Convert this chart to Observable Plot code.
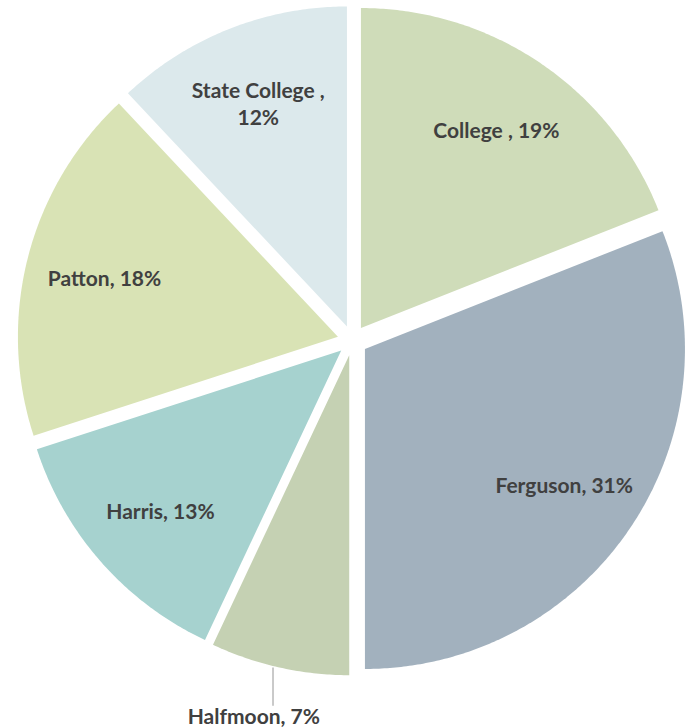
<!DOCTYPE html>
<html>
<head>
<meta charset="utf-8">
<script src="https://cdn.jsdelivr.net/npm/d3@7"></script>
<script src="https://cdn.jsdelivr.net/npm/@observablehq/plot@0.6"></script>
<style>
  html, body { margin: 0; padding: 0; background: #ffffff; }
  #chart { width: 686px; height: 728px; }
</style>
</head>
<body>
<div id="chart"></div>
<script>
const categories = ["College ", "Ferguson", "Halfmoon", "Harris", "Patton", "State College "];
const values = [19, 31, 7, 13, 18, 12];
const colors = ["#cfdcb9", "#a2b1be", "#c5d1b3", "#a6d2cf", "#d9e3b5", "#dce9ec"];

const explode = 0.047;
const labelRadius = 0.8;
const total = d3.sum(values);
const arcs = d3.pie().sort(null)(values);

// slice polygons (unit radius, angles clockwise from 12 o'clock)
const slicePoints = [];
const labels = [];
const leaders = [];
arcs.forEach((a, i) => {
  const cat = categories[i];
  const mid = (a.startAngle + a.endAngle) / 2;
  const ox = explode * Math.sin(mid), oy = explode * Math.cos(mid);
  slicePoints.push({cat, x: ox, y: oy});
  const n = Math.max(2, Math.ceil((a.endAngle - a.startAngle) / (Math.PI / 360)));
  for (let k = 0; k <= n; k++) {
    const t = a.startAngle + (a.endAngle - a.startAngle) * k / n;
    slicePoints.push({cat, x: ox + Math.sin(t), y: oy + Math.cos(t)});
  }
  const pct = Math.round(values[i] / total * 100);
  let text = `${cat}, ${pct}%`;
  if (text.length > 15) text = `${cat},\n${pct}%`;
  if (values[i] / total < 0.1) {
    // outside label with leader line
    const ax = (1 + explode) * Math.sin(mid) - 0.02, ay = (1 + explode) * Math.cos(mid);
    leaders.push({x1: ax, y1: ay, x2: ax, y2: ay - 0.12});
    labels.push({text, x: ax - 0.06, y: ay - 0.15});
  } else {
    labels.push({text, x: labelRadius * Math.sin(mid), y: labelRadius * Math.cos(mid)});
  }
});

const chart = Plot.plot({
  width: 686,
  height: 728,
  marginLeft: 32,
  marginRight: 14,
  marginTop: 20,
  marginBottom: 68,
  x: {domain: [-1, 1], axis: null},
  y: {domain: [-1, 1], axis: null},
  color: {domain: categories, range: colors},
  style: {fontFamily: "Lato, 'Liberation Sans', sans-serif", background: "#ffffff"},
  marks: [
    Plot.line(slicePoints, {x: "x", y: "y", z: "cat", fill: "cat", stroke: null, curve: "linear-closed"}),
    Plot.link(leaders, {x1: "x1", y1: "y1", x2: "x2", y2: "y2", stroke: "#a6a6a6", strokeWidth: 1.2}),
    Plot.text(labels, {x: "x", y: "y", text: "text", fill: "#404040", fontSize: 21, fontWeight: "bold", lineHeight: 1.3})
  ]
});
document.getElementById("chart").appendChild(chart);
</script>
</body>
</html>
